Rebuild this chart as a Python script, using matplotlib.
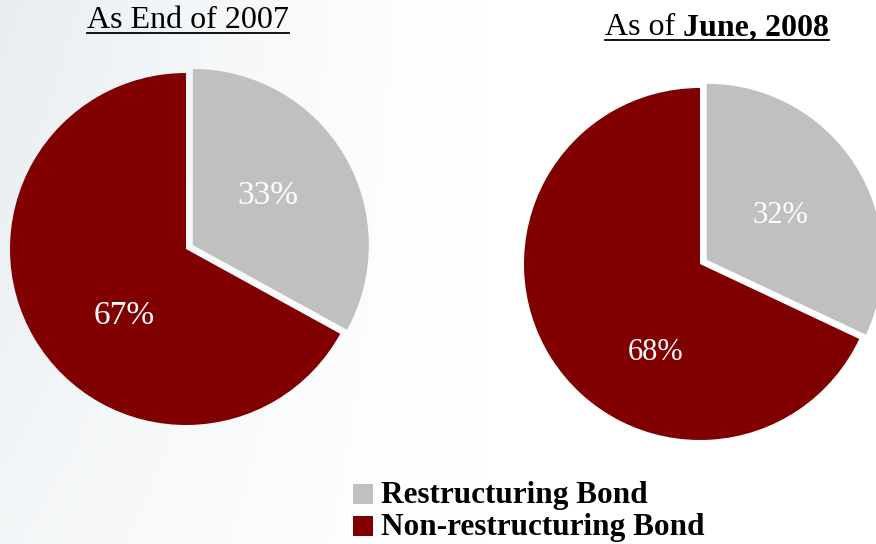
import numpy as np
import matplotlib
matplotlib.use("Agg")
import matplotlib.pyplot as plt
from matplotlib.patches import Rectangle
from matplotlib.lines import Line2D

# Bond composition shares (%)
categories = ["Restructuring Bond", "Non-restructuring Bond"]
share_2007 = [33, 67]
share_2008 = [32, 68]
title_2007 = "As End of 2007"
title_2008_plain = "As of "
title_2008_bold = "June, 2008"

colors = ["#C0C0C0", "#800000"]
W, H = 876, 544
SERIF = ["Liberation Serif", "DejaVu Serif"]

fig = plt.figure(figsize=(W / 100, H / 100), dpi=100)
fig.patch.set_facecolor("white")

# soft bluish-grey wash fading to white towards the right
bg = fig.add_axes([0, 0, 1, 1], zorder=-10)
xs = np.linspace(0, 1, 400)
ys = np.linspace(0, 1, 250)
X, Y = np.meshgrid(xs, ys)
fade = np.clip(1 - X / 0.55, 0, 1) ** 1.3 * (0.5 + 0.5 * (1 - Y))
img = np.ones((len(ys), len(xs), 3))
tint = np.array([0.91, 0.93, 0.945])
img = img * (1 - fade[..., None]) + tint * fade[..., None]
bg.imshow(img, extent=[0, 1, 0, 1], aspect="auto", origin="upper")
bg.set_axis_off()


def px_axes(cx, cy, r, pad=1.1):
    half = r * pad
    ax = fig.add_axes([(cx - half) / W, (H - cy - half) / H,
                       2 * half / W, 2 * half / H])
    ax.set_xlim(-pad, pad)
    ax.set_ylim(-pad, pad)
    ax.set_aspect("equal")
    ax.set_axis_off()
    ax.patch.set_alpha(0)
    return ax


def draw_pie(ax, values, fsize, label_xy):
    wedges, texts, autotexts = ax.pie(
        values, colors=colors, startangle=90, counterclock=False,
        explode=[0.045, 0], autopct="%d%%", pctdistance=0.56,
        wedgeprops=dict(linewidth=0), radius=1.0,
        textprops=dict(color="white", fontsize=fsize, family=SERIF))
    ax.set_xlim(-1.1, 1.1)
    ax.set_ylim(-1.1, 1.1)
    for w in wedges:
        w.set_clip_on(False)
    for t, xy in zip(autotexts, label_xy):
        t.set_position(xy)
    return wedges


ax1 = px_axes(186, 249, 176)
draw_pie(ax1, share_2007, 24, [(0.466, 0.301), (-0.352, -0.381)])
ax2 = px_axes(700, 264, 176)
draw_pie(ax2, share_2008, 22, [(0.455, 0.278), (-0.25, -0.50)])

renderer = fig.canvas.get_renderer()


def underline(texts, y_px):
    x0 = min(t.get_window_extent(renderer).x0 for t in texts)
    x1 = max(t.get_window_extent(renderer).x1 for t in texts)
    fig.add_artist(Line2D([x0 / W, x1 / W], [1 - y_px / H] * 2,
                          color="black", lw=1.3, transform=fig.transFigure))


# titles
t1 = fig.text(188 / W, 1 - 28 / H, title_2007, ha="center", va="baseline",
              fontsize=23, family=SERIF)
underline([t1], 33)

t2a = fig.text(605 / W, 1 - 35 / H, title_2008_plain, ha="left", va="baseline",
               fontsize=23, family=SERIF)
ext = t2a.get_window_extent(renderer)
t2b = fig.text(ext.x1 / W, 1 - 35 / H, title_2008_bold, ha="left", va="baseline",
               fontsize=23, family=SERIF, fontweight="bold")
underline([t2a, t2b], 40)

# legend
rows_y = [494, 526]
for cat, col, yc in zip(categories, colors, rows_y):
    fig.add_artist(Rectangle((353 / W, 1 - (yc + 10) / H), 20 / W, 20 / H,
                             facecolor=col, edgecolor="none",
                             transform=fig.transFigure))
    fig.text(381 / W, 1 - (yc + 9) / H, cat, ha="left", va="baseline",
             fontsize=22.5, family=SERIF, fontweight="bold")

fig.savefig("out.png", dpi=100)
